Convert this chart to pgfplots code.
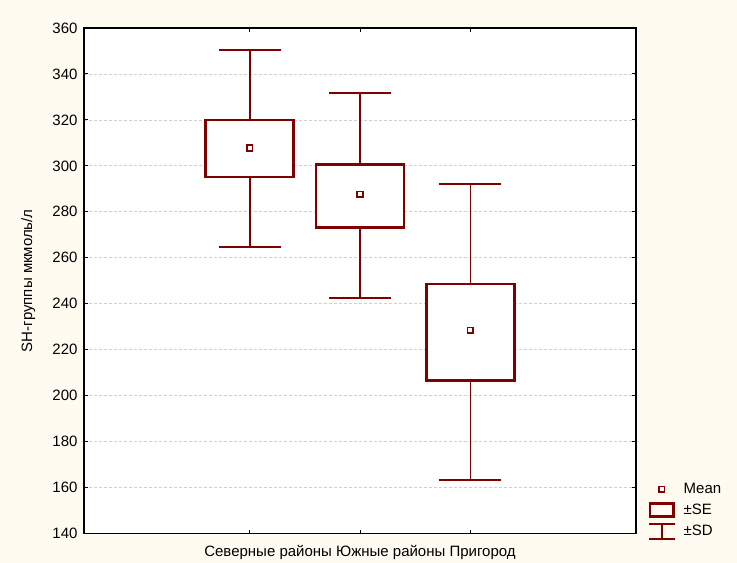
\documentclass[border=0pt]{standalone}
\usepackage{fontspec}
\setmainfont{Liberation Sans}
\usepackage{pgfplots}
\pgfplotsset{compat=1.18}
\usetikzlibrary{calc,backgrounds}
\definecolor{dred}{HTML}{800000}
\definecolor{bgc}{HTML}{FFFBF0}
\definecolor{gridc}{HTML}{D0D0D0}
\begin{document}
\begin{tikzpicture}
\begin{axis}[
  name=ax,
  scale only axis,
  width=552bp, height=505.5bp,
  xmin=-0.5, xmax=4.5,
  ymin=140, ymax=360,
  ytick={140,160,...,360},
  xtick={1,2,3}, xticklabels={},
  major tick length=4bp,
  tick style={black, line width=1bp},
  axis line style={black, line width=1.6bp},
  axis background/.style={fill=white},
  ymajorgrids,
  grid style={gridc, line width=0.8bp, dash pattern=on 3bp off 2bp},
  font=\fontsize{15bp}{18bp}\selectfont,
  /pgf/number format/assume math mode=true,
  yticklabel style={xshift=-3bp},
  ylabel={SH-группы мкмоль/л},
  ylabel style={at={(axis description cs:-0.101,0.5)}, anchor=center},
  xlabel={Северные районы Южные районы Пригород},
  xlabel style={at={(axis description cs:0.5,0)}, anchor=center, yshift=-18.5bp},
  legend style={at={(axis description cs:1.0217,0.104)}, anchor=north west,
    draw=none, fill=none, inner sep=0pt, row sep=5bp,
    font=\fontsize{15bp}{18bp}\selectfont,
    /tikz/every odd column/.append style={column sep=6bp}},
  legend cell align=left,
]
% whiskers (SD)
\addplot[dred, line width=1.8bp, forget plot] coordinates {(1,320.0) (1,350.4)};
\addplot[dred, line width=1.8bp, forget plot] coordinates {(1,295.1) (1,264.6)};
\addplot[dred, line width=1.8bp, forget plot] coordinates {(0.72,350.4) (1.28,350.4)};
\addplot[dred, line width=1.8bp, forget plot] coordinates {(0.72,264.6) (1.28,264.6)};
\addplot[dred, line width=1.8bp, forget plot] coordinates {(2,300.7) (2,331.8)};
\addplot[dred, line width=1.8bp, forget plot] coordinates {(2,273.3) (2,242.5)};
\addplot[dred, line width=1.8bp, forget plot] coordinates {(1.72,331.8) (2.28,331.8)};
\addplot[dred, line width=1.8bp, forget plot] coordinates {(1.72,242.5) (2.28,242.5)};
\addplot[dred, line width=1.8bp, forget plot] coordinates {(3,248.5) (3,292.0)};
\addplot[dred, line width=1.8bp, forget plot] coordinates {(3,206.7) (3,163.3)};
\addplot[dred, line width=1.8bp, forget plot] coordinates {(2.72,292.0) (3.28,292.0)};
\addplot[dred, line width=1.8bp, forget plot] coordinates {(2.72,163.3) (3.28,163.3)};
% boxes (SE)
\addplot[dred, line width=2.6bp, fill=white, forget plot] coordinates {(0.6,295.1) (1.4,295.1) (1.4,320.0) (0.6,320.0)} -- cycle;
\addplot[dred, line width=2.6bp, fill=white, forget plot] coordinates {(1.6,273.3) (2.4,273.3) (2.4,300.7) (1.6,300.7)} -- cycle;
\addplot[dred, line width=2.6bp, fill=white, forget plot] coordinates {(2.6,206.7) (3.4,206.7) (3.4,248.5) (2.6,248.5)} -- cycle;
% means
\addplot[only marks, mark=square*, mark size=2.8bp, mark options={draw=dred, fill=white, line width=1.6bp}, forget plot] coordinates {(1,307.8) (2,287.6) (3,228.4)};
\addlegendimage{legend image code/.code={\draw[dred, line width=1.6bp, fill=white] (10bp,-2.7bp) rectangle (15.4bp,2.7bp);}}
\addlegendentry{Mean}
\addlegendimage{legend image code/.code={\draw[dred, line width=2.4bp] (1bp,-6.5bp) rectangle (24.5bp,6.5bp);}}
\addlegendentry{±SE}
\addlegendimage{legend image code/.code={\draw[dred, line width=2bp] (0bp,7bp)--(25.5bp,7bp) (12.75bp,7bp)--(12.75bp,-8bp) (0bp,-8bp)--(25.5bp,-8bp);}}
\addlegendentry{±SD}
\end{axis}
\begin{scope}[on background layer]
\fill[bgc] ($(ax.south west)+(-84bp,-29.5bp)$) rectangle ($(ax.north east)+(101bp,28bp)$);
\end{scope}
\pgfresetboundingbox
\path ($(ax.south west)+(-84bp,-29.5bp)$) rectangle ($(ax.north east)+(101bp,28bp)$);
\end{tikzpicture}
\end{document}
